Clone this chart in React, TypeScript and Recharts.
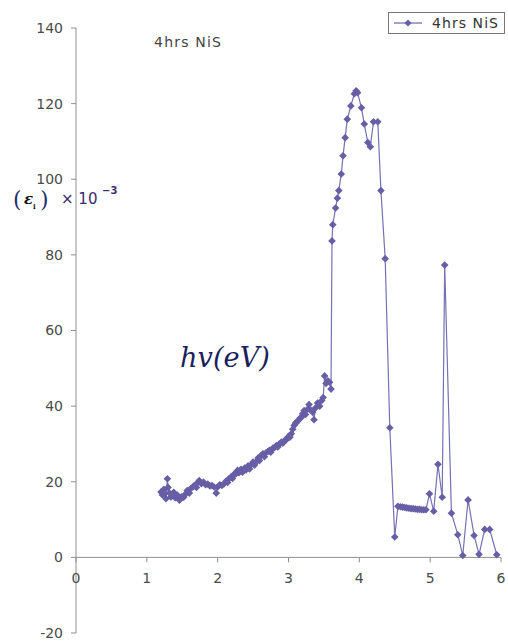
import { LineChart, Line, XAxis, YAxis, ReferenceLine, ReferenceDot } from "recharts";

// photon energy hv (eV) and epsilon_i (x 10^-3)
// absorption edge, 1.2 - 3.6 eV
const HV_EDGE = [
  1.2, 1.22, 1.24, 1.25, 1.27, 1.29, 1.3, 1.32, 1.34, 1.36, 1.38, 1.4, 1.43, 1.46, 1.49, 1.52,
  1.55, 1.57, 1.6, 1.62, 1.65, 1.67, 1.7, 1.72, 1.74, 1.77, 1.8, 1.83, 1.86, 1.89, 1.92, 1.95,
  1.98, 2.0, 2.03, 2.06, 2.09, 2.12, 2.14, 2.16, 2.19, 2.21, 2.23, 2.26, 2.28, 2.3, 2.33, 2.35,
  2.38, 2.4, 2.43, 2.45, 2.48, 2.5, 2.52, 2.54, 2.57, 2.59, 2.61, 2.64, 2.66, 2.68, 2.71, 2.73,
  2.75, 2.78, 2.8, 2.83, 2.85, 2.87, 2.9, 2.92, 2.95, 2.97, 3.0, 3.02, 3.04, 3.06, 3.08, 3.1,
  3.11, 3.13, 3.16, 3.18, 3.2, 3.22, 3.24, 3.27, 3.29, 3.31, 3.34, 3.36, 3.38, 3.41, 3.44, 3.47,
  3.49, 3.51, 3.53, 3.555, 3.58, 3.6,
];
const EPS_EDGE = [
  17.3, 16.5, 18.0, 16.8, 15.5, 20.8, 18.5, 17.0, 16.0, 16.4, 17.2, 15.8, 16.5, 15.1, 16.0, 15.9,
  16.8, 17.7, 17.0, 18.2, 18.6, 19.0, 18.5, 19.8, 20.3, 19.5, 19.9, 19.2, 19.4, 18.9, 19.0, 18.6,
  17.0, 18.6, 19.2, 19.0, 19.5, 20.2, 19.8, 20.8, 21.3, 20.9, 22.0, 22.1, 23.0, 22.4, 23.3, 22.5,
  23.6, 23.1, 24.2, 23.4, 24.6, 25.2, 24.4, 25.2, 26.3, 25.6, 26.9, 27.4, 26.6, 27.6, 28.0, 28.3,
  27.8, 28.9, 29.0, 29.6, 29.2, 30.0, 30.5, 30.2, 31.0, 31.1, 32.0, 31.8, 32.7, 33.9, 34.9, 35.5,
  35.7, 36.0, 36.8, 37.0, 38.0, 38.8, 37.8, 39.2, 40.4, 39.0, 38.4, 36.4, 39.5, 40.8, 40.0, 41.5,
  42.3, 48.0, 46.0, 46.7, 46.3, 44.5,
];

// main peak, 3.6 - 4.4 eV
const HV_PEAK = [
  3.614, 3.625, 3.665, 3.69, 3.71, 3.745, 3.77, 3.8, 3.83, 3.88, 3.93, 3.955, 3.975, 4.03, 4.07,
  4.12, 4.155, 4.2, 4.26, 4.305, 4.365,
];
const EPS_PEAK = [
  83.7, 88.0, 92.4, 95.0, 97.0, 101.4, 106.2, 111.0, 115.9, 119.4, 122.6, 123.4, 122.9, 118.9,
  114.6, 109.7, 108.6, 115.2, 115.2, 97.0, 79.0,
];

// tail, 4.4 - 6 eV
const HV_TAIL = [
  4.43, 4.5, 4.545, 4.58, 4.61, 4.64, 4.67, 4.7, 4.73, 4.76, 4.79, 4.82, 4.85, 4.88, 4.91, 4.94,
  4.99, 5.05, 5.11, 5.17, 5.205, 5.3, 5.39, 5.46, 5.535, 5.62, 5.69, 5.77, 5.84, 5.94,
];
const EPS_TAIL = [
  34.3, 5.4, 13.5, 13.4, 13.3, 13.2, 13.1, 13.0, 12.9, 12.9, 12.8, 12.7, 12.7, 12.6, 12.6, 12.6,
  16.8, 12.2, 24.6, 15.9, 77.3, 11.7, 6.0, 0.5, 15.2, 5.8, 0.8, 7.4, 7.4, 0.7,
];

const X_TICKS = [0, 1, 2, 3, 4, 5, 6];
const Y_TICKS = [-20, 0, 20, 40, 60, 80, 100, 120, 140];
const SERIES_NAME = "4hrs NiS";

const HV = [...HV_EDGE, ...HV_PEAK, ...HV_TAIL];
const EPS = [...EPS_EDGE, ...EPS_PEAK, ...EPS_TAIL];
const data = HV.map((hv, i) => ({ hv, eps: EPS[i] }));

const MARK = "#665fa6";
const LINE = "#7670b4";
const AXIS = "#8f8f8f";
const LABEL = "#4a4a4a";
const FONT = "DejaVu Sans, Arial, sans-serif";

function diamond(cx: number, cy: number, r: number) {
  return `${cx},${cy - r} ${cx + r},${cy} ${cx},${cy + r} ${cx - r},${cy}`;
}

function renderDot(p: any) {
  if (p.cx == null || p.cy == null) return <g key={p.index} />;
  return <polygon key={p.index} points={diamond(p.cx, p.cy, 3.8)} fill={MARK} />;
}

// x ticks sit on the y=0 line, not at the bottom of the plot
function xTick(label: number) {
  return (p: any) => (
    <g>
      <line x1={p.cx} y1={p.cy} x2={p.cx} y2={p.cy + 5} stroke={AXIS} />
      <text x={p.cx} y={p.cy + 26} textAnchor="middle" fontSize={14} fontFamily={FONT} fill={LABEL}>
        {label}
      </text>
    </g>
  );
}

export default function App() {
  return (
    <div style={{ position: "absolute", left: 0, top: 0, width: 508, height: 641, background: "#fff" }}>
      <LineChart width={508} height={641} data={data} margin={{ top: 28, right: 7, bottom: 8, left: 16 }}>
        <XAxis type="number" dataKey="hv" domain={[0, 6]} ticks={X_TICKS} hide />
        <YAxis
          type="number"
          domain={[-20, 140]}
          ticks={Y_TICKS}
          interval={0}
          width={60}
          tickSize={5}
          tickMargin={8}
          axisLine={{ stroke: AXIS }}
          tickLine={{ stroke: AXIS }}
          tick={{ fill: LABEL, fontSize: 14, fontFamily: FONT }}
        />
        <ReferenceLine y={0} stroke={AXIS} />
        {X_TICKS.map((t) => (
          <ReferenceDot key={t} x={t} y={0} r={0} ifOverflow="visible" shape={xTick(t)} />
        ))}
        <Line
          type="linear"
          dataKey="eps"
          name={SERIES_NAME}
          stroke={LINE}
          strokeWidth={1.2}
          dot={renderDot}
          activeDot={false}
          isAnimationActive={false}
        />
      </LineChart>

      {/* legend box */}
      <div
        style={{
          position: "absolute",
          left: 388,
          top: 12,
          width: 115,
          height: 20,
          border: "1px solid #777",
          background: "#fff",
        }}
      >
        <svg width={115} height={20}>
          <line x1={5} y1={10} x2={33} y2={10} stroke={LINE} strokeWidth={1.3} />
          <polygon points={diamond(19, 10, 3.6)} fill={MARK} />
          <text x={43} y={15} fontSize={14} fontFamily={FONT} fill="#333" textLength={66}>
            {SERIES_NAME}
          </text>
        </svg>
      </div>

      {/* annotations */}
      <svg width={508} height={641} style={{ position: "absolute", left: 0, top: 0, pointerEvents: "none" }}>
        <text x={154} y={47} fontSize={14} fontFamily={FONT} fill="#444" textLength={67}>
          4hrs NiS
        </text>
        <text x={13} y={207} fontSize={22} fontFamily="DejaVu Serif, serif" fill="#1f2f70">(</text>
        <text x={24} y={204} fontSize={15} fontStyle="italic" fontWeight="bold" fontFamily="DejaVu Serif, serif" fill="#111">ε</text>
        <text x={33} y={209} fontSize={7} fontWeight="bold" fontFamily="DejaVu Serif, serif" fill="#111">i</text>
        <text x={40} y={207} fontSize={22} fontFamily="DejaVu Serif, serif" fill="#1f2f70">)</text>
        <text x={61} y={204} fontSize={15} fontFamily={FONT} fill="#3a2d6e">× 10</text>
        <text x={102} y={194} fontSize={10} fontWeight="bold" fontFamily={FONT} fill="#3a2d6e">−3</text>
        <text
          x={180}
          y={367}
          fontSize={28}
          fontStyle="italic"
          fontFamily="DejaVu Serif, serif"
          fill="#1b1f5e"
          textLength={90}
          lengthAdjust="spacingAndGlyphs"
        >
          hv(eV)
        </text>
      </svg>
    </div>
  );
}
